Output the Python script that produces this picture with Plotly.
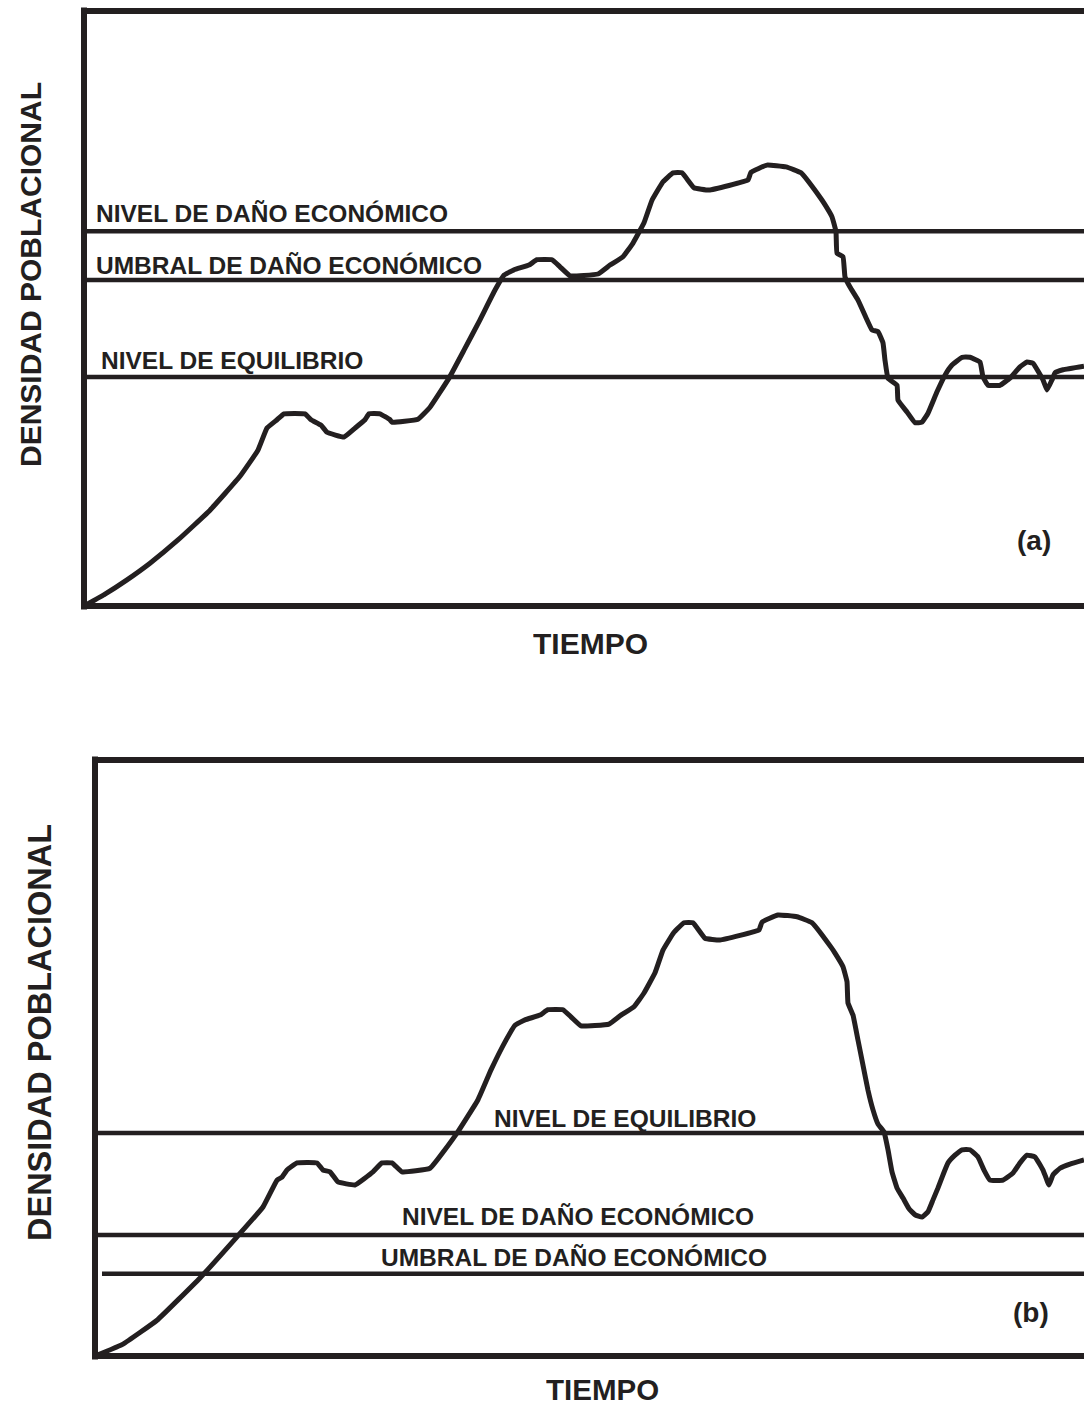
import plotly.graph_objects as go

INK = "#231f20"
FONT = "Liberation Sans, Arial, sans-serif"

# Panel (a): population density over time, pest oscillating around the equilibrium
time_a = [0, 2.1, 4.3, 6.6, 9.4, 12.6, 15.6, 17.4, 18.3, 19.3, 20.0, 22.1, 22.7, 23.7,
          24.3, 26.0, 27.1, 28.1, 28.5, 29.6, 30.6, 30.8, 33.4, 34.6, 36.5, 38.0, 39.6,
          41.1, 42.0, 43.0, 44.5, 45.3, 46.8, 47.6, 48.6, 51.4, 52.6, 53.9, 54.9, 56.0,
          56.8, 57.9, 58.9, 59.8, 61.0, 62.5, 66.4, 66.7, 68.3, 70.2, 71.7, 73.6, 74.0,
          74.8, 75.2, 75.3, 75.9, 76.1, 76.6, 77.4, 78.3, 78.8, 79.4, 79.9, 80.1, 80.4,
          81.3, 81.4, 82.3, 83.1, 83.8, 84.4, 85.3, 86.1, 86.8, 87.8, 88.6, 89.6, 89.9,
          90.4, 91.6, 92.6, 93.6, 94.3, 94.9, 95.9, 96.3, 96.8, 97.1, 97.9, 100.0]
density_a = [0, 2.0, 4.4, 7.2, 11.1, 16.1, 21.8, 26.2, 29.9, 31.3, 32.3, 32.3, 31.3, 30.4,
             29.2, 28.4, 29.9, 31.3, 32.3, 32.3, 31.3, 30.9, 31.4, 33.4, 38.3, 43.0, 48.1,
             53.1, 55.6, 56.5, 57.3, 58.2, 58.2, 57.0, 55.5, 55.8, 57.3, 58.7, 61.0, 64.4,
             68.2, 71.3, 72.8, 72.8, 70.3, 69.9, 71.6, 72.9, 74.1, 73.8, 72.8, 68.7, 67.7,
             65.4, 62.9, 59.3, 58.7, 55.3, 53.6, 51.4, 48.1, 46.4, 46.1, 44.2, 41.3, 38.3,
             37.1, 34.6, 32.6, 30.8, 30.9, 32.4, 36.0, 38.8, 40.5, 41.8, 41.8, 41.0, 38.5,
             37.1, 37.1, 38.3, 40.2, 41.0, 40.8, 38.0, 36.3, 38.0, 39.2, 39.7, 40.3]

# Panel (b): same outbreak, but with thresholds set below the equilibrium level
time_b = [0, 2.8, 6.2, 10.5, 14.2, 16.8, 18.2, 18.7, 19.2, 20.2, 22.2, 22.8, 23.5, 24.3,
          26.0, 27.8, 28.7, 29.7, 30.7, 33.5, 36.2, 38.3, 39.6, 41.1, 42.0, 43.0, 44.5,
          45.3, 46.8, 47.6, 48.6, 51.4, 52.6, 53.9, 54.9, 56.0, 56.8, 57.9, 58.9, 59.8,
          61.0, 62.5, 66.4, 66.7, 68.3, 70.2, 71.7, 73.6, 74.0, 74.8, 75.2, 75.3, 75.8,
          76.3, 76.8, 77.3, 77.8, 78.3, 78.9, 79.3, 79.7, 80.2, 80.8, 81.4, 82.0, 82.7,
          83.3, 83.8, 84.3, 84.8, 85.3, 86.0, 86.7, 87.5, 88.3, 88.9, 89.5, 90.8, 91.8,
          92.5, 93.2, 94.0, 94.8, 95.4, 95.8, 96.5, 97.5, 98.9]
density_b = [0, 2.0, 6.0, 13.1, 20.0, 25.0, 29.5, 30.0, 31.2, 32.4, 32.4, 31.2, 30.9, 29.2,
             28.7, 30.9, 32.4, 32.4, 30.9, 31.5, 37.4, 43.0, 48.0, 53.0, 55.5, 56.4, 57.2,
             58.1, 58.1, 56.9, 55.4, 55.7, 57.2, 58.6, 60.9, 64.3, 68.1, 71.1, 72.7, 72.7,
             70.1, 69.8, 71.5, 72.8, 74.0, 73.7, 72.7, 68.6, 67.6, 65.3, 62.8, 59.2, 57.2,
             53.0, 48.8, 44.6, 41.3, 38.9, 37.6, 34.6, 30.9, 28.2, 26.5, 24.7, 23.7, 23.3,
             24.2, 26.2, 28.2, 30.4, 32.4, 33.7, 34.6, 34.6, 33.4, 31.2, 29.5, 29.5, 30.7,
             32.4, 33.7, 33.4, 31.2, 28.7, 30.4, 31.5, 32.2, 32.9]

# Reference levels (density units)
level_names = ["NIVEL DE DAÑO ECONÓMICO", "UMBRAL DE DAÑO ECONÓMICO", "NIVEL DE EQUILIBRIO"]
levels_a = [63.0, 54.8, 38.5]
levels_b = [20.3, 13.8, 37.4]

panel_tags = ["(a)", "(b)"]
x_title = "TIEMPO"
y_title = "DENSIDAD POBLACIONAL"

W, H = 1084, 1404


def py(p):
    """Convert a pixel row (from top) to paper y."""
    return 1 - p / H


fig = go.Figure()

panels = [
    dict(xa="x", ya="y", t=time_a, d=density_a, lv=levels_a, xmax=100.0,
         xdom=[84 / W, 1], ydom=[py(606), py(11)]),
    dict(xa="x2", ya="y2", t=time_b, d=density_b, lv=levels_b, xmax=98.9,
         xdom=[95 / W, 1], ydom=[py(1356), py(760)]),
]

for p in panels:
    # threshold lines
    for i, v in enumerate(p["lv"]):
        x0 = 0.7 if (p["xa"] == "x2" and i == 1) else 0
        fig.add_trace(go.Scatter(x=[x0, p["xmax"]], y=[v, v], mode="lines",
                                 line=dict(color=INK, width=4.5),
                                 xaxis=p["xa"], yaxis=p["ya"], hoverinfo="skip",
                                 showlegend=False))
    # population curve
    fig.add_trace(go.Scatter(x=p["t"], y=p["d"], mode="lines",
                             line=dict(color=INK, width=5, shape="spline", smoothing=0.3),
                             xaxis=p["xa"], yaxis=p["ya"], showlegend=False))
    # axis frame: left, bottom, top
    xr = p["xa"] + " domain"
    yr = p["ya"] + " domain"
    frame = [(0, -0.006, 0, 1.006), (-0.003, 0, 1, 0), (-0.003, 1, 1, 1)]
    for x0, y0, x1, y1 in frame:
        fig.add_shape(type="line", xref=xr, yref=yr, x0=x0, y0=y0, x1=x1, y1=y1,
                      line=dict(color=INK, width=6))

ax_common = dict(showgrid=False, zeroline=False, showline=False, showticklabels=False,
                 ticks="", fixedrange=True)
fig.update_layout(
    xaxis=dict(domain=panels[0]["xdom"], range=[0, panels[0]["xmax"]], anchor="y", **ax_common),
    yaxis=dict(domain=panels[0]["ydom"], range=[0, 100], anchor="x", **ax_common),
    xaxis2=dict(domain=panels[1]["xdom"], range=[0, panels[1]["xmax"]], anchor="y2", **ax_common),
    yaxis2=dict(domain=panels[1]["ydom"], range=[0, 100], anchor="x2", **ax_common),
)

ann = []


def label(text, xref, yref, x, y, size, xanchor="left", yshift=0, angle=0, box_h=None):
    a = dict(text="<b>%s</b>" % text, xref=xref, yref=yref, x=x, y=y,
             xanchor=xanchor, yanchor="middle", yshift=yshift, textangle=angle,
             showarrow=False, font=dict(family=FONT, size=size, color=INK))
    if box_h:
        a["height"] = box_h
        a["valign"] = "middle"
    ann.append(a)


# panel (a) level labels
label(level_names[0], "x", "y", 0.95, levels_a[0], 24.5, yshift=18)
label(level_names[1], "x", "y", 0.95, levels_a[1], 24.5, yshift=14)
label(level_names[2], "x", "y", 1.45, levels_a[2], 24.5, yshift=16)
# panel (b) level labels
label(level_names[2], "x2", "y2", 39.7, levels_b[2], 24.5, yshift=15)
label(level_names[0], "x2", "y2", 30.5, levels_b[0], 24.5, yshift=19)
label(level_names[1], "x2", "y2", 28.4, levels_b[1], 24.5, yshift=16)

# panel tags
label(panel_tags[0], "paper", "paper", 1034 / W, py(540), 28, xanchor="center")
label(panel_tags[1], "paper", "paper", 1031 / W, py(1312), 28, xanchor="center")

# axis titles
label(x_title, "paper", "paper", 590 / W, py(643), 30, xanchor="center", box_h=24)
label(x_title, "paper", "paper", 602 / W, py(1389), 29.5, xanchor="center", box_h=22)
label(y_title, "paper", "paper", 30 / W, py(275), 30, xanchor="center", angle=-90)
label(y_title, "paper", "paper", 40 / W, py(1033), 32.5, xanchor="center", angle=-90)

fig.update_layout(
    width=W, height=H, margin=dict(l=0, r=0, t=0, b=0),
    paper_bgcolor="white", plot_bgcolor="white",
    annotations=ann, showlegend=False,
)

fig.write_html("out.html", config={"displayModeBar": False})
